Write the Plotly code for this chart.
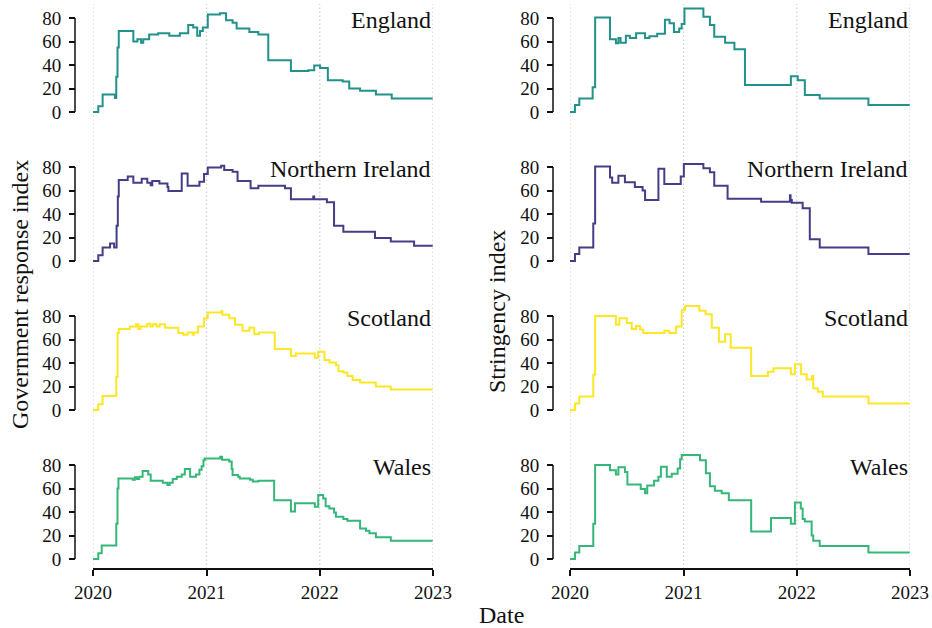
import plotly.graph_objects as go

# ---------------------------------------------------------------------------
# Data: UK nations, Government response index (GRI) and Stringency index (SI)
# Each series is a step function: value holds from its date until the next one.
# ---------------------------------------------------------------------------
nations = ["England", "Northern Ireland", "Scotland", "Wales"]
year_ticks = ["2020-01-01", "2021-01-01", "2022-01-01", "2023-01-01"]
year_labels = ["2020", "2021", "2022", "2023"]
y_ticks = [0, 20, 40, 60, 80]

eng_gri_dates = ["2020-01-01", "2020-01-18", "2020-02-01", "2020-03-12", "2020-03-16", "2020-03-20",
                 "2020-03-24", "2020-05-10", "2020-05-23", "2020-06-04", "2020-06-11", "2020-06-30",
                 "2020-07-29", "2020-09-03", "2020-10-07", "2020-11-03", "2020-11-19", "2020-12-02",
                 "2020-12-11", "2020-12-20", "2021-01-05", "2021-02-13", "2021-03-05", "2021-03-26",
                 "2021-04-08", "2021-05-19", "2021-06-17", "2021-07-19", "2021-09-30", "2021-11-25",
                 "2021-12-14", "2022-01-02", "2022-01-27", "2022-03-16", "2022-04-06", "2022-05-11",
                 "2022-07-01", "2022-08-21", "2022-12-31"]
eng_gri_vals = [0, 5, 15, 12, 30, 55, 69, 60, 62, 59, 62, 66, 67, 65, 67, 74, 72, 65, 69, 72, 83, 84,
                78, 76, 71, 68, 66, 44, 35, 35.5, 39.5, 37.5, 27, 26, 20, 18, 15, 11.5, 11.5]

nir_gri_dates = ["2020-01-01", "2020-01-18", "2020-02-01", "2020-02-25", "2020-03-09", "2020-03-17",
                 "2020-03-21", "2020-03-24", "2020-04-22", "2020-05-10", "2020-06-06", "2020-06-24",
                 "2020-07-05", "2020-07-10", "2020-08-02", "2020-08-28", "2020-08-31", "2020-10-13",
                 "2020-11-01", "2020-12-09", "2020-12-24", "2021-01-05", "2021-02-17", "2021-02-27",
                 "2021-03-26", "2021-04-11", "2021-05-23", "2021-06-17", "2021-09-11", "2021-09-30",
                 "2021-12-11", "2021-12-14", "2022-01-24", "2022-02-16", "2022-03-18", "2022-06-28",
                 "2022-08-18", "2022-11-01", "2022-12-31"]
nir_gri_vals = [0, 5, 11.5, 15, 11.5, 30, 55, 69, 72, 66.5, 70, 66.5, 64.5, 68, 66, 63, 59.5, 74.5,
                64, 67.5, 74, 79.5, 81, 77.5, 76, 68, 62, 64, 62, 52.5, 55, 52.5, 50, 30, 25, 19.5,
                16.5, 13, 13]

sco_gri_dates = ["2020-01-01", "2020-01-18", "2020-02-01", "2020-03-16", "2020-03-20", "2020-03-24",
                 "2020-04-29", "2020-05-19", "2020-05-26", "2020-06-02", "2020-06-24", "2020-07-04",
                 "2020-07-12", "2020-07-24", "2020-08-03", "2020-08-20", "2020-10-02", "2020-10-18",
                 "2020-11-01", "2020-11-17", "2020-11-21", "2020-12-05", "2020-12-24", "2021-01-05",
                 "2021-02-17", "2021-02-21", "2021-03-15", "2021-04-03", "2021-04-27", "2021-05-19",
                 "2021-06-04", "2021-06-19", "2021-08-09", "2021-09-30", "2021-10-16", "2021-12-16",
                 "2021-12-27", "2022-01-16", "2022-02-01", "2022-02-22", "2022-03-02", "2022-03-18",
                 "2022-03-31", "2022-04-17", "2022-05-11", "2022-07-01", "2022-08-18", "2022-12-31"]
sco_gri_vals = [0, 5, 12, 28, 65.5, 69, 71, 73, 69, 71, 73.5, 71, 73, 71, 73, 70, 65.5, 64, 66, 64,
                66, 71, 78, 83, 84, 81, 78, 72.5, 67.5, 70, 64.5, 66, 52, 46, 48, 44.5, 49.5, 42.5,
                40.5, 38, 33, 32, 29, 25.5, 23.5, 20, 17.5, 17.5]

wal_gri_dates = ["2020-01-01", "2020-01-18", "2020-01-29", "2020-03-16", "2020-03-20", "2020-03-23",
                 "2020-05-08", "2020-05-15", "2020-05-22", "2020-05-29", "2020-06-09", "2020-06-27",
                 "2020-07-05", "2020-08-13", "2020-08-28", "2020-09-04", "2020-09-14", "2020-09-27",
                 "2020-10-13", "2020-10-23", "2020-11-09", "2020-11-28", "2020-12-09", "2020-12-16",
                 "2020-12-22", "2020-12-26", "2021-02-14", "2021-02-20", "2021-03-15", "2021-03-23",
                 "2021-03-26", "2021-04-13", "2021-04-18", "2021-05-21", "2021-05-30", "2021-06-17",
                 "2021-08-07", "2021-09-30", "2021-10-13", "2021-12-16", "2021-12-27", "2022-01-12",
                 "2022-01-20", "2022-02-01", "2022-02-16", "2022-02-22", "2022-03-18", "2022-03-31",
                 "2022-05-11", "2022-05-30", "2022-06-10", "2022-07-01", "2022-08-18", "2022-12-31"]
wal_gri_vals = [0, 5, 11.5, 30, 60, 68.5, 67.5, 69.5, 68, 70, 75, 72, 66.5, 65, 63, 65, 68, 70, 72,
                76.5, 70, 72, 76, 79, 84, 85.5, 87, 84.5, 83, 76.5, 71.5, 70, 68.5, 67.5, 66, 66.5,
                50, 40.5, 47.5, 44.5, 54.5, 51.5, 45, 43, 39.5, 36, 34, 32.5, 26, 24, 22, 18.5,
                15.5, 15.5]

eng_si_dates = ["2020-01-01", "2020-01-17", "2020-01-31", "2020-03-14", "2020-03-22", "2020-05-09",
                "2020-05-28", "2020-06-05", "2020-06-12", "2020-06-29", "2020-07-12", "2020-08-01",
                "2020-08-30", "2020-09-13", "2020-10-08", "2020-11-02", "2020-11-17", "2020-12-01",
                "2020-12-18", "2020-12-26", "2021-01-04", "2021-03-06", "2021-03-27", "2021-04-10",
                "2021-05-15", "2021-06-14", "2021-07-18", "2021-12-13", "2022-01-04", "2022-01-27",
                "2022-03-16", "2022-08-20", "2022-12-31"]
eng_si_vals = [0, 6, 11.5, 21, 80.5, 62, 58.5, 63, 59, 65, 63, 67, 63, 64.5, 66.5, 78.5, 75.5, 68,
               71, 75, 88, 81, 74, 64, 59, 53.5, 23, 30.5, 27, 14.5, 11.5, 6, 6]

nir_si_dates = ["2020-01-01", "2020-01-17", "2020-01-31", "2020-03-16", "2020-03-22", "2020-05-09",
                "2020-05-16", "2020-06-05", "2020-06-26", "2020-07-28", "2020-08-22", "2020-08-30",
                "2020-10-12", "2020-10-31", "2020-12-23", "2021-01-02", "2021-03-06", "2021-03-27",
                "2021-04-10", "2021-05-23", "2021-09-08", "2021-12-10", "2021-12-12", "2021-12-16",
                "2022-01-20", "2022-02-12", "2022-03-16", "2022-08-20", "2022-12-31"]
nir_si_vals = [0, 6, 11.5, 32, 80.5, 71, 66.5, 72.5, 67, 63, 60, 52, 78.5, 65.5, 72, 82.5, 79,
               75.5, 64, 53, 50.5, 56, 52, 49.5, 45, 18.5, 11.5, 6, 6]

sco_si_dates = ["2020-01-01", "2020-01-17", "2020-01-31", "2020-03-16", "2020-03-22", "2020-05-28",
                "2020-06-08", "2020-07-02", "2020-07-18", "2020-08-01", "2020-08-14", "2020-08-24",
                "2020-10-31", "2020-11-16", "2020-12-08", "2020-12-26", "2021-01-06", "2021-02-21",
                "2021-03-13", "2021-04-02", "2021-04-25", "2021-05-15", "2021-06-02", "2021-08-07",
                "2021-09-30", "2021-10-18", "2021-12-13", "2021-12-26", "2022-01-15", "2022-02-02",
                "2022-02-19", "2022-02-23", "2022-03-10", "2022-03-26", "2022-08-20", "2022-12-31"]
sco_si_vals = [0, 5.5, 11.5, 30, 80, 72.5, 78, 74, 69, 71.5, 68.5, 65.5, 67.5, 65.5, 71, 85, 88.5,
               84.5, 81.5, 70, 58, 64.5, 53, 29, 32.5, 35.5, 30.5, 39, 30.5, 26, 29, 18.5, 15.5,
               11.5, 5.5, 5.5]

wal_si_dates = ["2020-01-01", "2020-01-17", "2020-01-31", "2020-03-16", "2020-03-22", "2020-05-09",
                "2020-05-28", "2020-06-05", "2020-06-26", "2020-07-04", "2020-08-16", "2020-08-30",
                "2020-09-06", "2020-09-28", "2020-10-12", "2020-10-20", "2020-11-08", "2020-11-24",
                "2020-12-13", "2020-12-21", "2020-12-26", "2021-02-23", "2021-03-14", "2021-03-27",
                "2021-04-12", "2021-05-04", "2021-05-27", "2021-08-07", "2021-10-10", "2021-12-13",
                "2021-12-26", "2022-01-14", "2022-01-20", "2022-01-27", "2022-02-18", "2022-02-23",
                "2022-03-16", "2022-08-20", "2022-12-31"]
wal_si_vals = [0, 5.5, 11, 30, 80, 75.5, 72, 78, 74, 63.5, 59.5, 56, 62.5, 66.5, 70, 78.5, 70,
               72.5, 77, 85, 88.5, 84, 73, 62, 58, 56, 50, 23.5, 35, 30, 48, 43, 34, 32, 20,
               15.5, 11, 5.5, 5.5]

gri_series = [(eng_gri_dates, eng_gri_vals), (nir_gri_dates, nir_gri_vals),
              (sco_gri_dates, sco_gri_vals), (wal_gri_dates, wal_gri_vals)]
si_series = [(eng_si_dates, eng_si_vals), (nir_si_dates, nir_si_vals),
             (sco_si_dates, sco_si_vals), (wal_si_dates, wal_si_vals)]

colors = ["#21918c", "#433e85", "#fde725", "#35b779"]

# ---------------------------------------------------------------------------
# Layout geometry (pixels in a 932 x 628 canvas)
# ---------------------------------------------------------------------------
W, H = 932, 628
FONT = "Liberation Serif"
INK = "#111111"


def fx(p):
    return p / W


def fy(p):
    return 1 - p / H


def serif(size):
    return dict(family=FONT, size=size, color=INK)


col_px = [(93, 433), (570, 910)]      # x extent of each column (2020 -> 2023)
spine_px = [75, 553]                  # offset y-axis spines
row_top0, row_step = 4, 149           # panel stacking
zero0 = 112                           # pixel row of value 0 in the top panel
px_per_unit = 94 / 80
y_lo = -(row_top0 + row_step - zero0) / px_per_unit
y_hi = (zero0 - row_top0) / px_per_unit
x_axis_px = 569                       # bottom x spine

fig = go.Figure()

for r in range(4):
    top = row_top0 + r * row_step
    bottom = top + row_step
    for c in range(2):
        k = r * 2 + c + 1
        xa = "x" if k == 1 else f"x{k}"
        ya = "y" if k == 1 else f"y{k}"
        dates, vals = (gri_series if c == 0 else si_series)[r]
        fig.add_trace(go.Scatter(
            x=dates, y=vals, mode="lines", line_shape="hv",
            line=dict(color=colors[r], width=2),
            xaxis=xa, yaxis=ya, hoverinfo="skip",
        ))

        xdict = dict(
            domain=[fx(col_px[c][0]), fx(col_px[c][1])],
            range=[year_ticks[0], year_ticks[-1]],
            showgrid=False, zeroline=False, automargin=False,
        )
        if r == 3:
            xdict.update(
                anchor="free", position=fy(x_axis_px),
                showline=True, linecolor=INK, linewidth=1.5,
                ticks="outside", ticklen=6, tickwidth=1.5, tickcolor=INK,
                tickvals=year_ticks, ticktext=year_labels,
                tickfont=serif(19),
            )
        else:
            xdict.update(anchor=ya, visible=False)
        fig.update_layout({("xaxis" if k == 1 else f"xaxis{k}"): xdict})

        fig.update_layout({("yaxis" if k == 1 else f"yaxis{k}"): dict(
            domain=[fy(bottom), fy(top)],
            range=[y_lo, y_hi],
            anchor="free", position=fx(spine_px[c]),
            showline=False, showgrid=False, zeroline=False, automargin=False,
            ticks="outside", ticklen=6, tickwidth=1.5, tickcolor=INK,
            tickvals=y_ticks, ticklabelstandoff=4,
            tickfont=serif(19),
        )})

        # trimmed y spine from 0 to 80
        fig.add_shape(
            type="line", xref="paper", yref=ya,
            x0=fx(spine_px[c]), x1=fx(spine_px[c]), y0=0, y1=80,
            line=dict(color=INK, width=1.5),
        )

        # panel title, top right
        fig.add_annotation(
            text=nations[r], xref="paper", yref="paper",
            x=fx(col_px[c][1]), y=fy(zero0 + r * row_step - 92),
            xanchor="right", yanchor="middle", showarrow=False,
            font=serif(24),
        )

# dotted yearly guides running down each column
for xa in ["x7", "x8"]:
    for d in year_ticks:
        fig.add_shape(
            type="line", xref=xa, yref="paper",
            x0=d, x1=d, y0=fy(x_axis_px), y1=fy(4),
            line=dict(color="#cccccc", width=1.2, dash="1.5px,2.5px"),
            layer="below",
        )

fig.add_annotation(text="Government response index", xref="paper", yref="paper",
                   x=fx(20), y=fy(295), textangle=-90, showarrow=False,
                   xanchor="center", yanchor="middle", font=serif(24))
fig.add_annotation(text="Stringency index", xref="paper", yref="paper",
                   x=fx(497), y=fy(311), textangle=-90, showarrow=False,
                   xanchor="center", yanchor="middle", font=serif(24))
fig.add_annotation(text="Date", xref="paper", yref="paper",
                   x=fx(501), y=fy(615), showarrow=False,
                   xanchor="center", yanchor="middle", font=serif(24))

fig.update_layout(
    width=W, height=H, autosize=False,
    margin=dict(l=0, r=0, t=0, b=0, pad=0),
    paper_bgcolor="white", plot_bgcolor="white",
    showlegend=False,
)

fig.write_html("out.html")
